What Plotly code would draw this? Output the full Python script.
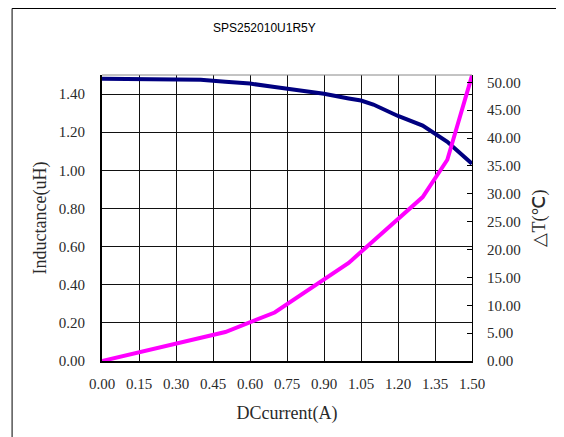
import plotly.graph_objects as go

# ---- data ----
current_L = [0.0, 0.1, 0.2, 0.3, 0.4, 0.5, 0.6, 0.7, 0.8, 0.9, 1.0, 1.05, 1.1, 1.2, 1.3, 1.4, 1.5]
inductance = [1.48, 1.48, 1.48, 1.48, 1.475, 1.465, 1.455, 1.437, 1.42, 1.402, 1.377, 1.366, 1.345, 1.285, 1.235, 1.15, 1.035]

current_T = [0.0, 0.5, 0.7, 1.0, 1.3, 1.4, 1.5]
delta_t = [0.0, 5.2, 8.7, 17.6, 29.4, 36.1, 51.2]

x_ticks = [0.0, 0.15, 0.30, 0.45, 0.60, 0.75, 0.90, 1.05, 1.20, 1.35, 1.50]
y_ticks = [0.0, 0.2, 0.4, 0.6, 0.8, 1.0, 1.2, 1.4]
y2_ticks = [0, 5, 10, 15, 20, 25, 30, 35, 40, 45, 50]

title_text = "SPS252010U1R5Y"
x_title = "DCcurrent(A)"
y_title = "Inductance(uH)"
y2_title = "△T(℃)"

SERIF = "Liberation Serif, Times New Roman, serif"
TXT = "#2a2a2a"

fig = go.Figure()
fig.add_trace(go.Scatter(x=current_L, y=inductance, mode="lines",
                         line=dict(color="#000080", width=4), yaxis="y", showlegend=False))
fig.add_trace(go.Scatter(x=current_T, y=delta_t, mode="lines",
                         line=dict(color="#FF00FF", width=4), yaxis="y2", showlegend=False))

fig.update_layout(
    width=564, height=437,
    margin=dict(l=94, r=100, t=67, b=84, autoexpand=False),
    paper_bgcolor="white", plot_bgcolor="white",
    font=dict(family=SERIF, size=15, color=TXT),
    xaxis=dict(range=[0, 1.5], tickvals=x_ticks,
               ticktext=[f"{v:.2f}" for v in x_ticks],
               showgrid=True, gridcolor="#111", gridwidth=1,
               showline=True, linecolor="black", linewidth=2,
               ticks="", ticklabelstandoff=8, zeroline=False,
               title=dict(text=x_title, standoff=15)),
    yaxis=dict(range=[0, 1.5], tickvals=y_ticks,
               ticktext=[f"{v:.2f}" for v in y_ticks],
               showgrid=True, gridcolor="#111", gridwidth=1,
               showline=True, linecolor="black", linewidth=2,
               ticks="", ticklabelstandoff=12, zeroline=False,
               title=dict(text=y_title, standoff=7)),
    yaxis2=dict(range=[0, 51.3], tickvals=y2_ticks,
                ticktext=[f"{v:.2f}" for v in y2_ticks],
                overlaying="y", side="right", showgrid=False,
                showline=True, linecolor="black", linewidth=1,
                ticks="inside", ticklen=5, tickcolor="black",
                ticklabelstandoff=11, zeroline=False,
                title=dict(text=y2_title, standoff=12)),
    shapes=[
        # top border of plot area (grey)
        dict(type="line", xref="paper", yref="paper", x0=0, x1=1, y0=1, y1=1,
             line=dict(color="#888", width=1)),
        # outer chart border: left and top edges only
        dict(type="line", xref="paper", yref="paper", x0=-0.243, x1=-0.243, y0=-2.0, y1=1.2325,
             line=dict(color="black", width=1), layer="below"),
        dict(type="line", xref="paper", yref="paper", x0=-0.243, x1=3.0, y0=1.2325, y1=1.2325,
             line=dict(color="black", width=1), layer="below"),
    ],
    annotations=[
        dict(text=title_text, xref="paper", yref="paper", x=0.44, y=1.165,
             showarrow=False, font=dict(family="Liberation Sans, Arial, sans-serif", size=12, color="black"),
             xanchor="center", yanchor="middle"),
    ],
)

fig.write_html("out.html")
